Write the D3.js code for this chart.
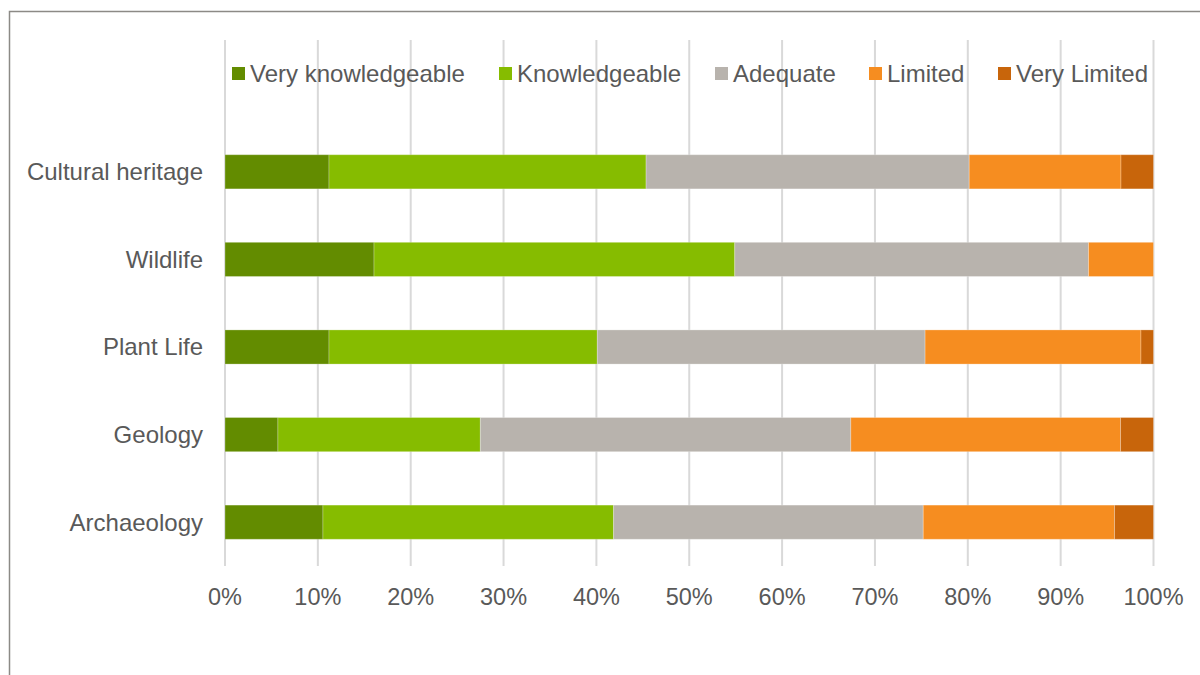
<!DOCTYPE html>
<html>
<head>
<meta charset="utf-8">
<script src="https://cdn.jsdelivr.net/npm/d3@7"></script>
<style>
  body { margin: 0; background: #fff; }
  svg { display: block; }
  text { font-family: "Liberation Sans", Arial, sans-serif; fill: #595959; }
</style>
</head>
<body>
<svg id="chart" width="1200" height="675"></svg>
<script>
// categories top to bottom
let categories = ["Cultural heritage", "Wildlife", "Plant Life", "Geology", "Archaeology"];
let seriesNames = ["Very knowledgeable", "Knowledgeable", "Adequate", "Limited", "Very Limited"];
let seriesColors = ["#638c00", "#86bc00", "#b8b3ad", "#f68d20", "#c8650b"];

// percent values per series, same order as categories
let veryKnowledgeable = [11.2, 16.05, 11.2, 5.7, 10.55];
let knowledgeable = [34.15, 38.85, 28.9, 21.8, 31.3];
let adequate = [34.8, 38.1, 35.3, 39.9, 33.35];
let limited = [16.35, 7.0, 23.25, 29.05, 20.6];
let veryLimited = [3.5, 0, 1.35, 3.55, 4.2];

let tickValues = [0, 10, 20, 30, 40, 50, 60, 70, 80, 90, 100];

let svg = d3.select("#chart");

// outer frame (runs off right and bottom)
svg.append("rect")
    .attr("x", 9.5).attr("y", 11.5)
    .attr("width", 1400).attr("height", 1000)
    .attr("fill", "none")
    .attr("stroke", "#8c8a86")
    .attr("stroke-width", 1.5);

let x = d3.scaleLinear().domain([0, 100]).range([225, 1153.5]);
let y = d3.scaleBand().domain(categories).range([128, 566]).paddingInner(0.61).paddingOuter(0.305);

// gridlines
svg.append("g")
    .selectAll("line")
    .data(tickValues)
    .enter().append("line")
    .attr("x1", d => x(d)).attr("x2", d => x(d))
    .attr("y1", 40).attr("y2", 566)
    .attr("stroke", "#d9d9d9")
    .attr("stroke-width", 2);

// stack the rows
let rows = categories.map(function (c, i) {
    return {
        cat: c,
        "Very knowledgeable": veryKnowledgeable[i],
        "Knowledgeable": knowledgeable[i],
        "Adequate": adequate[i],
        "Limited": limited[i],
        "Very Limited": veryLimited[i]
    };
});
let stacked = d3.stack().keys(seriesNames)(rows);

svg.append("g")
    .selectAll("g")
    .data(stacked)
    .enter().append("g")
    .attr("fill", (d, i) => seriesColors[i])
    .selectAll("rect")
    .data(d => d)
    .enter().append("rect")
    .attr("x", d => x(d[0]))
    .attr("width", d => Math.max(0, x(d[1]) - x(d[0])))
    .attr("y", d => y(d.data.cat))
    .attr("height", y.bandwidth())
    .attr("stroke", "#ffffff")
    .attr("stroke-opacity", 0.25)
    .attr("stroke-width", 1);

// category labels
svg.append("g")
    .selectAll("text")
    .data(categories)
    .enter().append("text")
    .attr("x", 203)
    .attr("y", d => y(d) + y.bandwidth() / 2)
    .attr("dy", "0.35em")
    .attr("text-anchor", "end")
    .style("font-size", "24px")
    .text(d => d);

// x tick labels
svg.append("g")
    .selectAll("text")
    .data(tickValues)
    .enter().append("text")
    .attr("x", d => x(d))
    .attr("y", 605)
    .attr("text-anchor", "middle")
    .style("font-size", "23.5px")
    .text(d => d + "%");

// legend
let legendX = [232, 499, 715, 869, 998];
let legend = svg.append("g")
    .selectAll("g")
    .data(seriesNames)
    .enter().append("g")
    .attr("transform", (d, i) => "translate(" + legendX[i] + ",67)");

legend.append("rect")
    .attr("width", 13).attr("height", 13)
    .attr("fill", (d, i) => seriesColors[i]);

legend.append("text")
    .attr("x", 18)
    .attr("y", 6.5)
    .attr("dy", "0.35em")
    .style("font-size", "24px")
    .text(d => d);
</script>
</body>
</html>
